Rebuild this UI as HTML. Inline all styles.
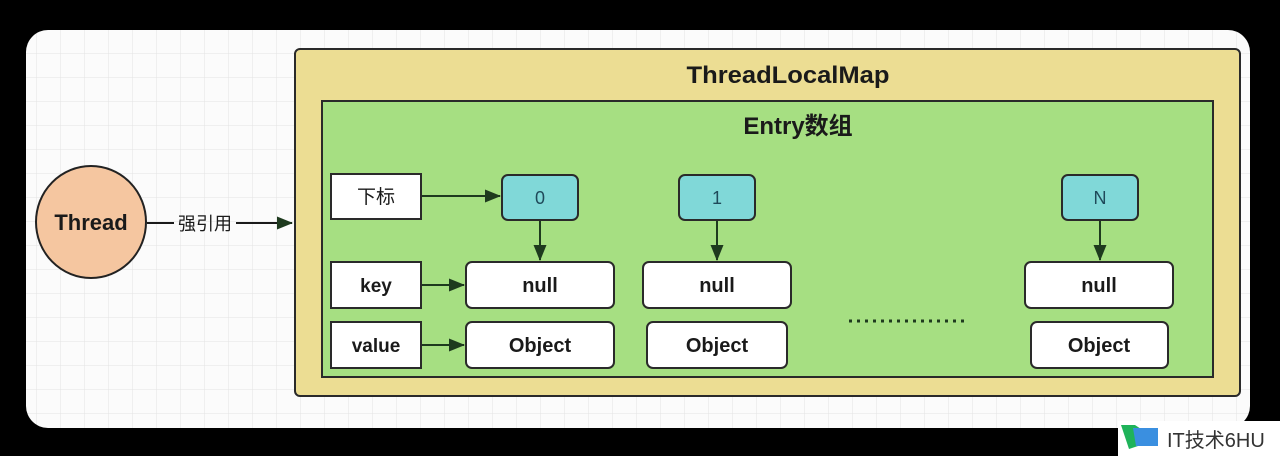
<!DOCTYPE html>
<html><head><meta charset="utf-8"><style>
html,body{margin:0;padding:0;background:#000;width:1280px;height:456px;overflow:hidden}
svg{display:block}
text{font-family:"Liberation Sans","Noto Sans CJK SC",sans-serif;fill:#1a1a1a}
</style></head><body>
<svg width="1280" height="456" viewBox="0 0 1280 456" xmlns="http://www.w3.org/2000/svg">
<defs>
<pattern id="g" width="24" height="24" patternUnits="userSpaceOnUse" x="13" y="6">
<rect width="24" height="24" fill="#fbfbfb"/>
<path d="M24 0V24M0 24H24" stroke="#e3e3e3" stroke-width="1"/>
</pattern>
<marker id="b" markerWidth="16" markerHeight="16" refX="15" refY="8" orient="auto" markerUnits="userSpaceOnUse">
<path d="M0 1.5L16 8L0 14.5z" fill="#1e3a1e"/>
</marker>
</defs>
<rect x="26" y="30" width="1224" height="398" rx="22" fill="url(#g)"/>
<ellipse cx="91" cy="222" rx="55" ry="56" fill="#f5c6a0" stroke="#222" stroke-width="2"/>
<text x="91" y="230" font-size="22" font-weight="bold" text-anchor="middle">Thread</text>
<line x1="147" y1="223" x2="174" y2="223" stroke="#1a1a1a" stroke-width="2"/>
<text x="205" y="230" font-size="18" text-anchor="middle">强引用</text>
<line x1="236" y1="223" x2="292" y2="223" stroke="#1a1a1a" stroke-width="2" marker-end="url(#b)"/>
<rect x="295" y="49" width="945" height="347" rx="5" fill="#ecdd93" stroke="#2a2a2a" stroke-width="2"/>
<text x="788" y="83" font-size="24" font-weight="bold" text-anchor="middle" textLength="203" lengthAdjust="spacingAndGlyphs">ThreadLocalMap</text>
<rect x="322" y="101" width="891" height="276" fill="#a6df82" stroke="#2a2a2a" stroke-width="2"/>
<text x="798" y="134" font-size="24" font-weight="bold" text-anchor="middle">Entry数组</text>
<g stroke="#2a2a2a" stroke-width="2" fill="#fff">
<rect x="331" y="174" width="90" height="45"/>
<rect x="331" y="262" width="90" height="46"/>
<rect x="331" y="322" width="90" height="46"/>
<rect x="502" y="175" width="76" height="45" rx="6" fill="#80d8d8"/>
<rect x="679" y="175" width="76" height="45" rx="6" fill="#80d8d8"/>
<rect x="1062" y="175" width="76" height="45" rx="6" fill="#80d8d8"/>
<rect x="466" y="262" width="148" height="46" rx="6"/>
<rect x="643" y="262" width="148" height="46" rx="6"/>
<rect x="1025" y="262" width="148" height="46" rx="6"/>
<rect x="466" y="322" width="148" height="46" rx="6"/>
<rect x="647" y="322" width="140" height="46" rx="6"/>
<rect x="1031" y="322" width="137" height="46" rx="6"/>
</g>
<text x="376" y="203" font-size="19" text-anchor="middle">下标</text>
<text x="376" y="292" font-size="19" font-weight="bold" text-anchor="middle">key</text>
<text x="376" y="352" font-size="19" font-weight="bold" text-anchor="middle">value</text>
<g font-size="18" text-anchor="middle">
<text x="540" y="204" style="fill:#1f4a5a">0</text>
<text x="717" y="204" style="fill:#1f4a5a">1</text>
<text x="1100" y="204" style="fill:#1f4a5a">N</text>
</g>
<g font-size="20" font-weight="bold" text-anchor="middle">
<text x="540" y="292">null</text>
<text x="717" y="292">null</text>
<text x="1099" y="292">null</text>
<text x="540" y="352">Object</text>
<text x="717" y="352">Object</text>
<text x="1099" y="352">Object</text>
</g>
<g stroke="#1e3a1e" stroke-width="2">
<line x1="422" y1="196" x2="500" y2="196" marker-end="url(#b)"/>
<line x1="422" y1="285" x2="464" y2="285" marker-end="url(#b)"/>
<line x1="422" y1="345" x2="464" y2="345" marker-end="url(#b)"/>
<line x1="540" y1="221" x2="540" y2="260" marker-end="url(#b)"/>
<line x1="717" y1="221" x2="717" y2="260" marker-end="url(#b)"/>
<line x1="1100" y1="221" x2="1100" y2="260" marker-end="url(#b)"/>
<line x1="849" y1="321" x2="968" y2="321" stroke-dasharray="3 5" stroke-width="3"/>
</g>
<rect x="1118" y="421" width="162" height="35" fill="#fff"/>
<path d="M1121 425h14l6 4v16l-12 4z" fill="#1fb35a"/>
<path d="M1133 428h25v18h-22z" fill="#3a8fe0"/>
<text x="1167" y="447" font-size="20" style="fill:#333">IT技术6HU</text>
</svg>
</body></html>
